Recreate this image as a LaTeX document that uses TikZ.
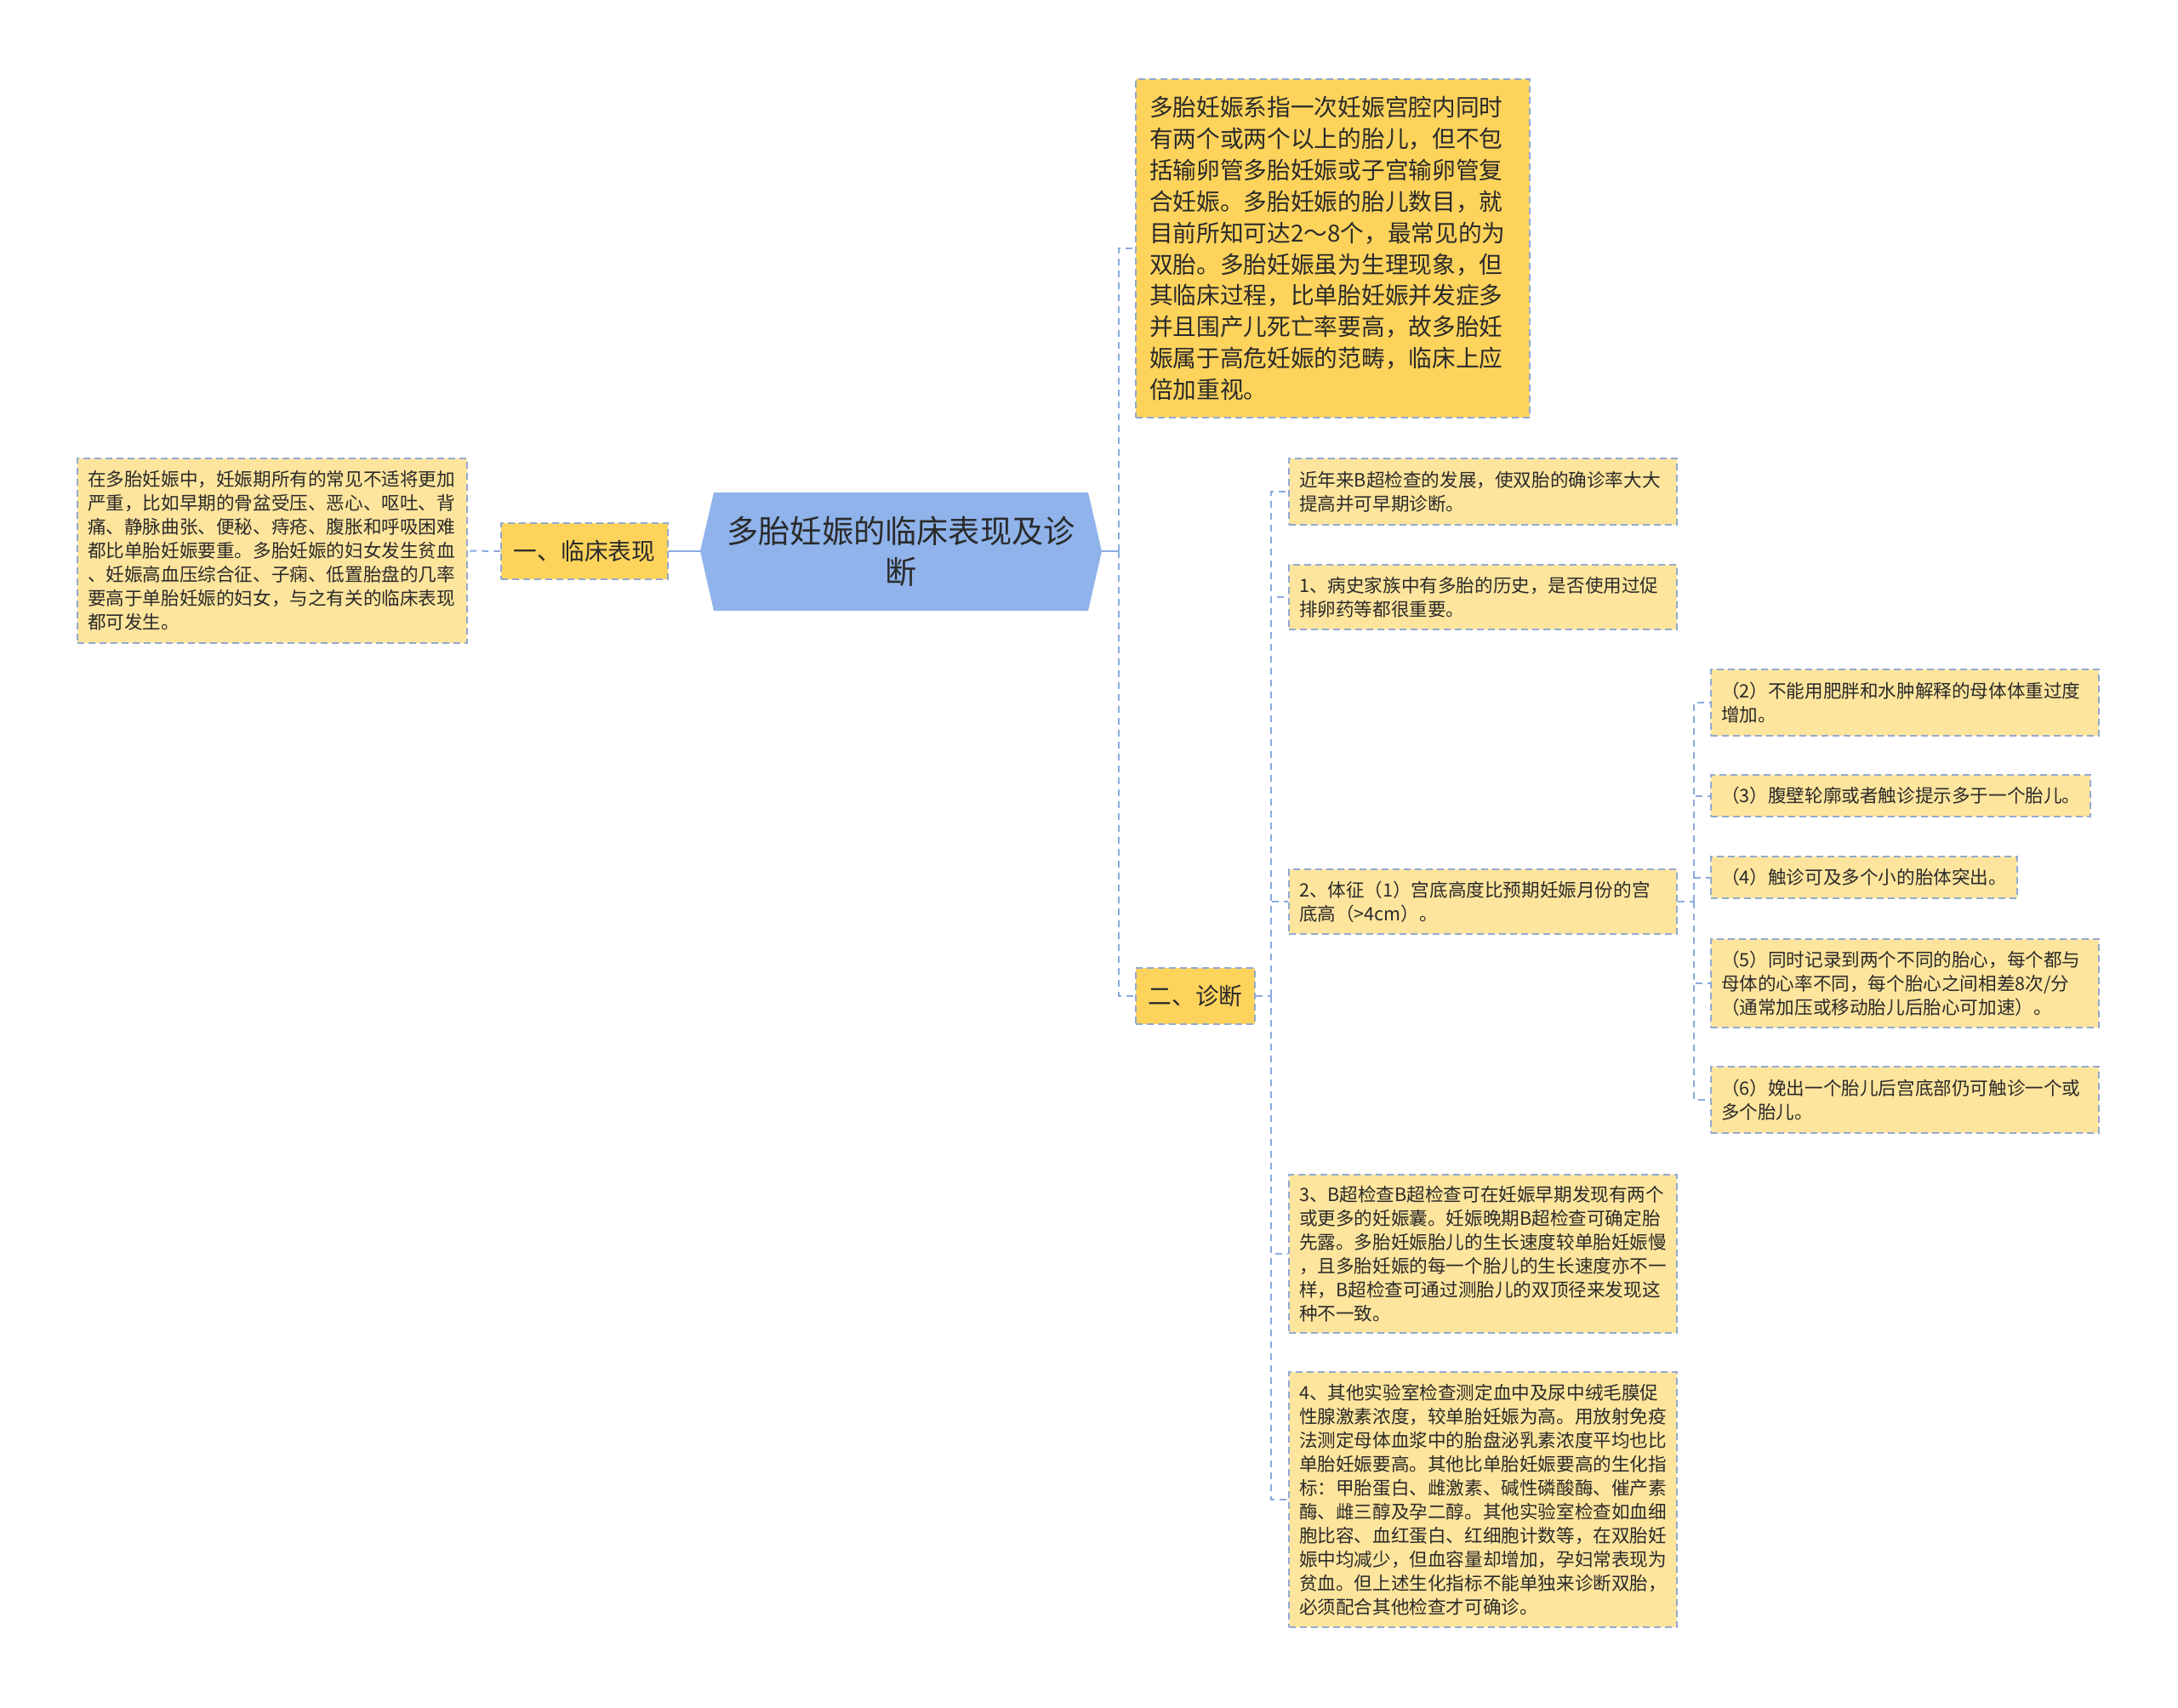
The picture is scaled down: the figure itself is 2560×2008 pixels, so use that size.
\documentclass[tikz,border=0pt]{standalone}
\usepackage{fontspec}
\setmainfont{Noto Sans CJK SC}
\definecolor{rootfill}{HTML}{8FB3EA}
\definecolor{lvlfill}{HTML}{FDD35C}
\definecolor{leaffill}{HTML}{FEE59D}
\definecolor{bordc}{HTML}{93A9CF}
\definecolor{connc}{HTML}{8AABDD}
\definecolor{txt}{HTML}{2A2A2A}
\tikzset{
 box/.style={draw=bordc, line width=0.75pt, dash pattern=on 4pt off 2.5pt, inner xsep=6pt, inner ysep=0pt, text=txt},
 leaf/.style={box, fill=leaffill, align=left, font=\fontsize{10.8pt}{14pt}\selectfont},
 lvl/.style={box, fill=lvlfill, font=\fontsize{13.85pt}{18.45pt}\selectfont},
 conn/.style={draw=connc, line width=1pt, dash pattern=on 4pt off 3pt},
 sconn/.style={draw=connc, line width=1pt},
 wide/.style={minimum width=228pt, text width=216pt},
}
\begin{document}
\begin{tikzpicture}[x=0.5pt,y=-0.5pt]
\fill[white] (0,0) rectangle (2560,2008);
\useasboundingbox (0,0) rectangle (2560,2008);

% root
\fill[rootfill] (823,648) -- (839,579) -- (1279,579) -- (1295,648) -- (1279,718) -- (839,718) -- cycle;
\node[minimum width=236pt, minimum height=69.5pt, inner sep=0pt, align=center, text=txt,
      font=\fontsize{18.6pt}{24pt}\selectfont] (root) at (1059,648) {多胎妊娠的临床表现及诊\\断};

% left branch
\node[lvl, minimum width=98pt, minimum height=33pt, align=center] (l1) at (687,648) {一、临床表现};
\node[leaf, minimum width=229pt, text width=217pt, minimum height=108.5pt] (lbox) at (320,647.5)
 {在多胎妊娠中，妊娠期所有的常见不适将更加\\严重，比如早期的骨盆受压、恶心、呕吐、背\\痛、静脉曲张、便秘、痔疮、腹胀和呼吸困难\\都比单胎妊娠要重。多胎妊娠的妇女发生贫血\\、妊娠高血压综合征、子痫、低置胎盘的几率\\要高于单胎妊娠的妇女，与之有关的临床表现\\都可发生。};

% right level 1
\node[lvl, align=left, minimum width=231.5pt, text width=215.5pt, inner xsep=8pt, minimum height=199pt] (desc) at (1566.5,292)
 {多胎妊娠系指一次妊娠宫腔内同时\\有两个或两个以上的胎儿，但不包\\括输卵管多胎妊娠或子宫输卵管复\\合妊娠。多胎妊娠的胎儿数目，就\\目前所知可达2～8个，最常见的为\\双胎。多胎妊娠虽为生理现象，但\\其临床过程，比单胎妊娠并发症多\\并且围产儿死亡率要高，故多胎妊\\娠属于高危妊娠的范畴，临床上应\\倍加重视。};
\node[lvl, minimum width=70pt, minimum height=33pt, align=center] (diag) at (1405,1171) {二、诊断};

% diagnosis children
\node[leaf, wide, minimum height=39pt] (d0) at (1743,578) {近年来B超检查的发展，使双胎的确诊率大大\\提高并可早期诊断。};
\node[leaf, wide, minimum height=38pt] (d1) at (1743,702) {1、病史家族中有多胎的历史，是否使用过促\\排卵药等都很重要。};
\node[leaf, wide, minimum height=38pt] (d2) at (1743,1060) {2、体征（1）宫底高度比预期妊娠月份的宫\\底高（>4cm）。};
\node[leaf, wide, minimum height=93pt] (d3) at (1743,1474)
 {3、B超检查B超检查可在妊娠早期发现有两个\\或更多的妊娠囊。妊娠晚期B超检查可确定胎\\先露。多胎妊娠胎儿的生长速度较单胎妊娠慢\\，且多胎妊娠的每一个胎儿的生长速度亦不一\\样，B超检查可通过测胎儿的双顶径来发现这\\种不一致。};
\node[leaf, wide, minimum height=150pt] (d4) at (1743,1763)
 {4、其他实验室检查测定血中及尿中绒毛膜促\\性腺激素浓度，较单胎妊娠为高。用放射免疫\\法测定母体血浆中的胎盘泌乳素浓度平均也比\\单胎妊娠要高。其他比单胎妊娠要高的生化指\\标：甲胎蛋白、雌激素、碱性磷酸酶、催产素\\酶、雌三醇及孕二醇。其他实验室检查如血细\\胞比容、血红蛋白、红细胞计数等，在双胎妊\\娠中均减少，但血容量却增加，孕妇常表现为\\贫血。但上述生化指标不能单独来诊断双胎，\\必须配合其他检查才可确诊。};

% sign children
\node[leaf, wide, minimum height=39pt] (s2) at (2239,826) {（2）不能用肥胖和水肿解释的母体体重过度\\增加。};
\node[leaf, minimum width=223pt, text width=211pt, minimum height=24.5pt] (s3) at (2234,935.5) {（3）腹壁轮廓或者触诊提示多于一个胎儿。};
\node[leaf, minimum width=180pt, text width=168pt, minimum height=24.5pt] (s4) at (2191,1031.5) {（4）触诊可及多个小的胎体突出。};
\node[leaf, wide, minimum height=52pt] (s5) at (2239,1156) {（5）同时记录到两个不同的胎心，每个都与\\母体的心率不同，每个胎心之间相差8次/分\\（通常加压或移动胎儿后胎心可加速）。};
\node[leaf, wide, minimum height=39pt] (s6) at (2239,1293) {（6）娩出一个胎儿后宫底部仍可触诊一个或\\多个胎儿。};

% connectors
\coordinate (t1) at (1315,648);
\coordinate (t2) at (1494,1171);
\coordinate (t3) at (1991,1060);

\draw[sconn] (root.west) -- (l1.east);
\draw[conn] (l1.west) -- (lbox.east);

\draw[sconn] (root.east) -- (t1);
\draw[conn] (t1) |- (desc.west);
\draw[conn] (t1) |- (diag.west);

\draw[conn] (diag.east) -- (t2);
\draw[conn] (t2) |- (d0.west);
\draw[conn] (t2) |- (d1.west);
\draw[conn] (t2) |- (d2.west);
\draw[conn] (t2) |- (d3.west);
\draw[conn] (t2) |- (d4.west);

\draw[conn] (d2.east) -- (t3);
\draw[conn] (t3) |- (s2.west);
\draw[conn] (t3) |- (s3.west);
\draw[conn] (t3) |- (s4.west);
\draw[conn] (t3) |- (s5.west);
\draw[conn] (t3) |- (s6.west);
\end{tikzpicture}
\end{document}
